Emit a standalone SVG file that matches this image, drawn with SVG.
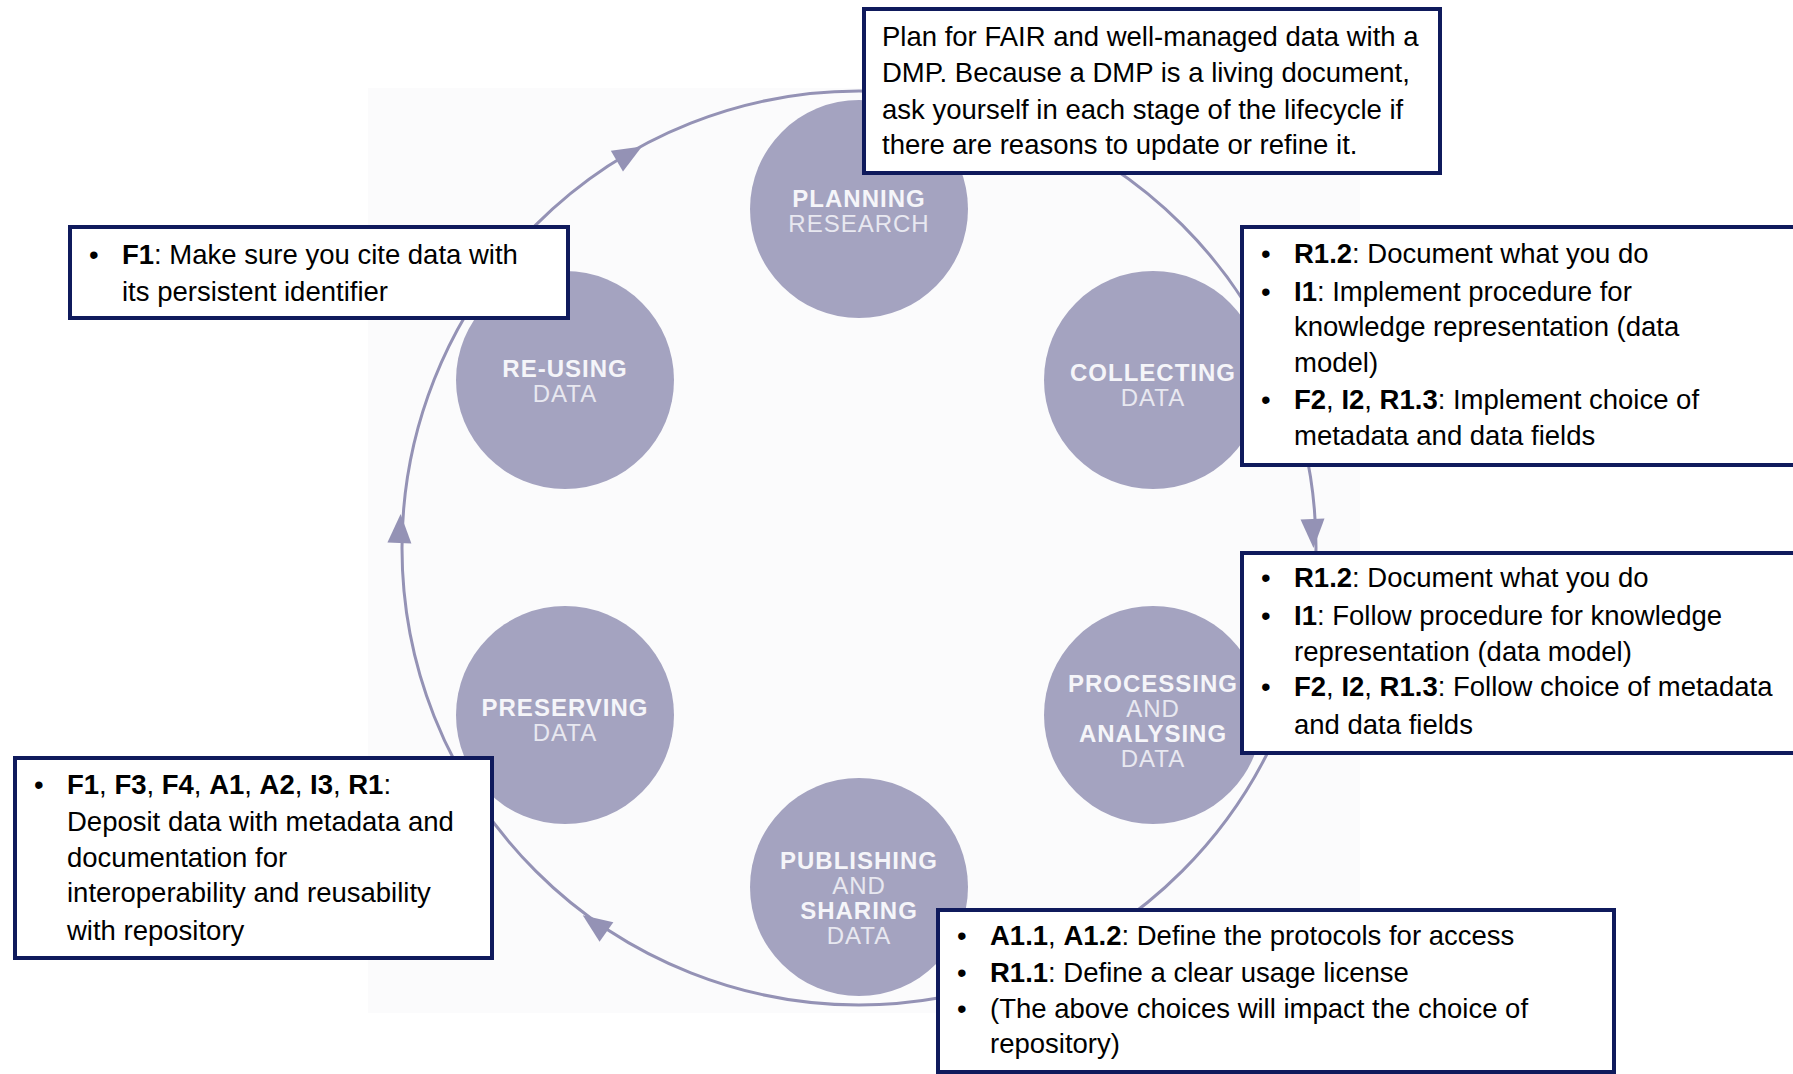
<svg xmlns="http://www.w3.org/2000/svg" width="1793" height="1074" viewBox="0 0 1793 1074">
<style>
.stage{fill:#a4a3c0}
.lb{font-family:"Liberation Sans",Arial,sans-serif;font-size:24px;font-weight:bold;fill:#f5f5f9;text-anchor:middle;letter-spacing:1px}
.lr{font-family:"Liberation Sans",Arial,sans-serif;font-size:24px;fill:#e8e8f0;text-anchor:middle;letter-spacing:1px}
.box{fill:#ffffff;stroke:#0f1a5c;stroke-width:4}
.t{font-family:"Liberation Sans",Arial,sans-serif;font-size:27.5px;fill:#000000}
.b{font-weight:bold}
.ring{fill:none;stroke:#9492b5;stroke-width:3}
.ah{fill:#9492b5}
</style>
<defs>
<polygon id="tri" points="15,0 -14,-12 -14,12"/>
</defs>
<rect x="0" y="0" width="1793" height="1074" fill="#ffffff"/>
<rect id="photo" x="368" y="88" width="992" height="925" fill="#fbfbfc"/>
<g id="connectors">
<circle class="ring" cx="859" cy="548" r="457"/>
<use href="#tri" class="ah" transform="translate(629,154) rotate(-30.3)"/>
<use href="#tri" class="ah" transform="translate(400,529) rotate(-87.6)"/>
<use href="#tri" class="ah" transform="translate(595,924) rotate(-144.9)"/>
<use href="#tri" class="ah" transform="translate(1313,533) rotate(88.1)"/>
</g>
<g id="planning">
<circle class="stage" cx="859" cy="209" r="109"/>
<text class="lb" x="859" y="207">PLANNING</text>
<text class="lr" x="859" y="232">RESEARCH</text>
</g>
<g id="collecting">
<circle class="stage" cx="1153" cy="380" r="109"/>
<text class="lb" x="1153" y="381">COLLECTING</text>
<text class="lr" x="1153" y="406">DATA</text>
</g>
<g id="processing">
<circle class="stage" cx="1153" cy="715" r="109"/>
<text class="lb" x="1153" y="692">PROCESSING</text>
<text class="lr" x="1153" y="717">AND</text>
<text class="lb" x="1153" y="742">ANALYSING</text>
<text class="lr" x="1153" y="767">DATA</text>
</g>
<g id="publishing">
<circle class="stage" cx="859" cy="887" r="109"/>
<text class="lb" x="859" y="869">PUBLISHING</text>
<text class="lr" x="859" y="894">AND</text>
<text class="lb" x="859" y="919">SHARING</text>
<text class="lr" x="859" y="944">DATA</text>
</g>
<g id="preserving">
<circle class="stage" cx="565" cy="715" r="109"/>
<text class="lb" x="565" y="716">PRESERVING</text>
<text class="lr" x="565" y="741">DATA</text>
</g>
<g id="reusing">
<circle class="stage" cx="565" cy="380" r="109"/>
<text class="lb" x="565" y="377">RE-USING</text>
<text class="lr" x="565" y="402">DATA</text>
</g>
<g id="note-plan">
<rect class="box" x="864" y="9" width="576" height="164"/>
<text class="t" x="882" y="46">Plan for FAIR and well-managed data with a</text>
<text class="t" x="882" y="82">DMP. Because a DMP is a living document,</text>
<text class="t" x="882" y="119">ask yourself in each stage of the lifecycle if</text>
<text class="t" x="882" y="154">there are reasons to update or refine it.</text>
</g>
<g id="note-reuse">
<rect class="box" x="70" y="227" width="498" height="91"/>
<text class="t" x="89" y="264">•</text>
<text class="t" x="122" y="264"><tspan class="b">F1</tspan>: Make sure you cite data with</text>
<text class="t" x="122" y="301">its persistent identifier</text>
</g>
<g id="note-collect">
<rect class="box" x="1242" y="227" width="560" height="238"/>
<text class="t" x="1261" y="263">•</text>
<text class="t" x="1294" y="263"><tspan class="b">R1.2</tspan>: Document what you do</text>
<text class="t" x="1261" y="301">•</text>
<text class="t" x="1294" y="301"><tspan class="b">I1</tspan>: Implement procedure for</text>
<text class="t" x="1294" y="336">knowledge representation (data</text>
<text class="t" x="1294" y="372">model)</text>
<text class="t" x="1261" y="409">•</text>
<text class="t" x="1294" y="409"><tspan class="b">F2</tspan>, <tspan class="b">I2</tspan>, <tspan class="b">R1.3</tspan>: Implement choice of</text>
<text class="t" x="1294" y="445">metadata and data fields</text>
</g>
<g id="note-process">
<rect class="box" x="1242" y="553" width="560" height="200"/>
<text class="t" x="1261" y="587">•</text>
<text class="t" x="1294" y="587"><tspan class="b">R1.2</tspan>: Document what you do</text>
<text class="t" x="1261" y="625">•</text>
<text class="t" x="1294" y="625"><tspan class="b">I1</tspan>: Follow procedure for knowledge</text>
<text class="t" x="1294" y="661">representation (data model)</text>
<text class="t" x="1261" y="696">•</text>
<text class="t" x="1294" y="696"><tspan class="b">F2</tspan>, <tspan class="b">I2</tspan>, <tspan class="b">R1.3</tspan>: Follow choice of metadata</text>
<text class="t" x="1294" y="734">and data fields</text>
</g>
<g id="note-preserve">
<rect class="box" x="15" y="758" width="477" height="200"/>
<text class="t" x="34" y="794">•</text>
<text class="t" x="67" y="794"><tspan class="b">F1</tspan>, <tspan class="b">F3</tspan>, <tspan class="b">F4</tspan>, <tspan class="b">A1</tspan>, <tspan class="b">A2</tspan>, <tspan class="b">I3</tspan>, <tspan class="b">R1</tspan>:</text>
<text class="t" x="67" y="831">Deposit data with metadata and</text>
<text class="t" x="67" y="867">documentation for</text>
<text class="t" x="67" y="902">interoperability and reusability</text>
<text class="t" x="67" y="940">with repository</text>
</g>
<g id="note-publish">
<rect class="box" x="938" y="910" width="676" height="162"/>
<text class="t" x="957" y="945">•</text>
<text class="t" x="990" y="945"><tspan class="b">A1.1</tspan>, <tspan class="b">A1.2</tspan>: Define the protocols for access</text>
<text class="t" x="957" y="982">•</text>
<text class="t" x="990" y="982"><tspan class="b">R1.1</tspan>: Define a clear usage license</text>
<text class="t" x="957" y="1018">•</text>
<text class="t" x="990" y="1018">(The above choices will impact the choice of</text>
<text class="t" x="990" y="1053">repository)</text>
</g>
</svg>
